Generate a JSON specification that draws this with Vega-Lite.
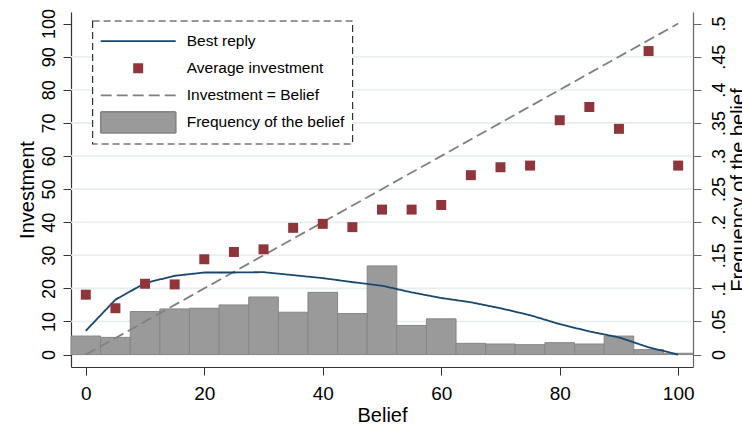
{
  "$schema": "https://vega.github.io/schema/vega-lite/v6.json",
  "width": 622,
  "height": 355,
  "autosize": "none",
  "padding": {"left": 71, "top": 12, "right": 49, "bottom": 62},
  "background": "white",
  "config": {
    "view": {"stroke": null},
    "font": "Liberation Sans",
    "axis": {
      "labelFont": "Liberation Sans",
      "titleFont": "Liberation Sans",
      "labelColor": "#000000",
      "titleColor": "#000000",
      "titleFontWeight": "normal",
      "labelFontSize": 18,
      "titleFontSize": 20,
      "tickSize": 8,
      "tickWidth": 1,
      "domainWidth": 1.2,
      "labelOverlap": false,
      "grid": false
    },
    "legend": {
      "orient": "none",
      "legendX": 21.3,
      "legendY": 8.7,
      "padding": 7.4,
      "rowPadding": 1.1,
      "clipHeight": 26,
      "labelOffset": 10,
      "labelFont": "Liberation Sans",
      "labelFontSize": 15.5,
      "labelColor": "#000000",
      "labelLimit": 400,
      "symbolSize": 5625,
      "symbolStrokeWidth": 1.8,
      "symbolOpacity": 1,
      "fillColor": "#ffffff",
      "strokeColor": "#333333",
      "strokeDash": [7, 4],
      "strokeWidth": 1.2
    }
  },
  "datasets": {
    "gridLevels": [
      {"investment": 10},
      {"investment": 20},
      {"investment": 30},
      {"investment": 40},
      {"investment": 50},
      {"investment": 60},
      {"investment": 70},
      {"investment": 80},
      {"investment": 90}
    ],
    "frequency": [
      {"belief": 0, "lo": -2.5, "hi": 2.5, "freq": 0.028},
      {"belief": 5, "lo": 2.5, "hi": 7.5, "freq": 0.026},
      {"belief": 10, "lo": 7.5, "hi": 12.5, "freq": 0.065},
      {"belief": 15, "lo": 12.5, "hi": 17.5, "freq": 0.069},
      {"belief": 20, "lo": 17.5, "hi": 22.5, "freq": 0.07},
      {"belief": 25, "lo": 22.5, "hi": 27.5, "freq": 0.075},
      {"belief": 30, "lo": 27.5, "hi": 32.5, "freq": 0.087},
      {"belief": 35, "lo": 32.5, "hi": 37.5, "freq": 0.064},
      {"belief": 40, "lo": 37.5, "hi": 42.5, "freq": 0.094},
      {"belief": 45, "lo": 42.5, "hi": 47.5, "freq": 0.062},
      {"belief": 50, "lo": 47.5, "hi": 52.5, "freq": 0.134},
      {"belief": 55, "lo": 52.5, "hi": 57.5, "freq": 0.044},
      {"belief": 60, "lo": 57.5, "hi": 62.5, "freq": 0.054},
      {"belief": 65, "lo": 62.5, "hi": 67.5, "freq": 0.017},
      {"belief": 70, "lo": 67.5, "hi": 72.5, "freq": 0.016},
      {"belief": 75, "lo": 72.5, "hi": 77.5, "freq": 0.015},
      {"belief": 80, "lo": 77.5, "hi": 82.5, "freq": 0.018},
      {"belief": 85, "lo": 82.5, "hi": 87.5, "freq": 0.016},
      {"belief": 90, "lo": 87.5, "hi": 92.5, "freq": 0.028},
      {"belief": 95, "lo": 92.5, "hi": 97.5, "freq": 0.0075},
      {"belief": 100, "lo": 97.5, "hi": 102.5, "freq": 0.002}
    ],
    "average": [
      {"belief": 0, "investment": 18.1},
      {"belief": 5, "investment": 14.0},
      {"belief": 10, "investment": 21.4},
      {"belief": 15, "investment": 21.2},
      {"belief": 20, "investment": 28.8},
      {"belief": 25, "investment": 31.0},
      {"belief": 30, "investment": 31.8},
      {"belief": 35, "investment": 38.3},
      {"belief": 40, "investment": 39.5},
      {"belief": 45, "investment": 38.5},
      {"belief": 50, "investment": 43.8},
      {"belief": 55, "investment": 43.8},
      {"belief": 60, "investment": 45.2},
      {"belief": 65, "investment": 54.2},
      {"belief": 70, "investment": 56.6},
      {"belief": 75, "investment": 57.1},
      {"belief": 80, "investment": 70.8},
      {"belief": 85, "investment": 74.8},
      {"belief": 90, "investment": 68.2},
      {"belief": 95, "investment": 91.7},
      {"belief": 100, "investment": 57.1}
    ],
    "bestReply": [
      {"belief": 0, "investment": 7.2},
      {"belief": 5, "investment": 16.6},
      {"belief": 10, "investment": 21.6},
      {"belief": 15, "investment": 23.8},
      {"belief": 20, "investment": 24.8},
      {"belief": 25, "investment": 24.8},
      {"belief": 30, "investment": 24.9},
      {"belief": 35, "investment": 24.0},
      {"belief": 40, "investment": 23.1},
      {"belief": 45, "investment": 21.9},
      {"belief": 50, "investment": 20.8},
      {"belief": 55, "investment": 18.8},
      {"belief": 60, "investment": 17.1},
      {"belief": 65, "investment": 15.8},
      {"belief": 70, "investment": 14.0},
      {"belief": 75, "investment": 11.9},
      {"belief": 80, "investment": 9.2},
      {"belief": 85, "investment": 7.0},
      {"belief": 90, "investment": 5.2},
      {"belief": 95, "investment": 2.2},
      {"belief": 100, "investment": 0}
    ],
    "identity": [
      {"belief": 0, "investment": 0},
      {"belief": 100, "investment": 100}
    ]
  },
  "layer": [
    {
      "data": {"name": "gridLevels"},
      "mark": {"type": "rule", "color": "#e6eef0", "strokeWidth": 1.6},
      "encoding": {
        "y": {
          "field": "investment",
          "type": "quantitative",
          "scale": {"domain": [-3.75, 103.5], "nice": false, "zero": false},
          "axis": null
        }
      }
    },
    {
      "data": {"name": "frequency"},
      "mark": {"type": "bar", "strokeWidth": 1, "opacity": 1},
      "encoding": {
        "x": {
          "field": "lo",
          "type": "quantitative",
          "scale": {"domain": [-2.5, 102.5], "nice": false, "zero": false},
          "axis": {
            "title": "Belief",
            "values": [0, 20, 40, 60, 80, 100],
            "labelFontSize": 19,
            "labelPadding": 9,
            "titlePadding": 2,
            "tickColor": "#333333",
            "domainColor": "#333333",
            "labelOverlap": false
          }
        },
        "x2": {"field": "hi"},
        "y": {
          "field": "freq",
          "type": "quantitative",
          "scale": {"domain": [-0.01875, 0.5175], "nice": false, "zero": false},
          "axis": {
            "orient": "right",
            "title": "Frequency of the belief",
            "values": [0, 0.05, 0.1, 0.15, 0.2, 0.25, 0.3, 0.35, 0.4, 0.45, 0.5],
            "labelExpr": "datum.value === 0 ? '0' : replace(format(datum.value, '.2~f'), '0.', '.')",
            "labelAngle": 270,
            "labelAlign": "center",
            "labelBaseline": "top",
            "labelPadding": 9.4,
            "labelOverlap": false,
            "titleAngle": 270,
            "titleBaseline": "top",
            "titlePadding": 0,
            "tickColor": "#666666",
            "domainColor": "#666666"
          }
        },
        "y2": {"datum": 0},
        "fill": {
          "datum": "Frequency of the belief",
          "scale": {
            "domain": ["Best reply", "Average investment", "Investment = Belief", "Frequency of the belief"],
            "range": ["transparent", "#90353b", "transparent", "#9a9a9a"]
          },
          "legend": {"title": null}
        },
        "stroke": {
          "datum": "Frequency of the belief",
          "scale": {
            "domain": ["Best reply", "Average investment", "Investment = Belief", "Frequency of the belief"],
            "range": ["#1a476f", "transparent", "#808080", "#868686"]
          },
          "legend": {"title": null}
        }
      }
    },
    {
      "layer": [
        {
          "data": {"name": "identity"},
          "mark": {"type": "line", "strokeWidth": 1.8},
          "encoding": {
            "x": {"field": "belief", "type": "quantitative"},
            "y": {
              "field": "investment",
              "type": "quantitative",
              "scale": {"domain": [-3.75, 103.5], "nice": false, "zero": false},
              "axis": {
                "orient": "left",
                "title": "Investment",
                "values": [0, 10, 20, 30, 40, 50, 60, 70, 80, 90, 100],
                "tickCount": 11,
                "labelAngle": 270,
                "labelAlign": "center",
                "labelBaseline": "bottom",
                "labelPadding": 4.2,
                "labelOverlap": false,
                "titleAngle": 270,
                "titleBaseline": "bottom",
                "titlePadding": 3.3,
                "tickColor": "#333333",
                "domainColor": "#333333"
              }
            },
            "stroke": {"datum": "Investment = Belief"},
            "strokeDash": {
              "datum": "Investment = Belief",
              "scale": {
                "domain": ["Best reply", "Average investment", "Investment = Belief", "Frequency of the belief"],
                "range": [[1, 0], [1, 0], [11, 5], [1, 0]]
              },
              "legend": {"title": null}
            }
          }
        },
        {
          "data": {"name": "bestReply"},
          "mark": {"type": "line", "strokeWidth": 1.8},
          "encoding": {
            "x": {"field": "belief", "type": "quantitative"},
            "y": {"field": "investment", "type": "quantitative"},
            "stroke": {"datum": "Best reply"},
            "strokeDash": {"datum": "Best reply"}
          }
        },
        {
          "data": {"name": "average"},
          "mark": {"type": "point", "filled": true, "size": 5625, "opacity": 1, "strokeWidth": 0},
          "encoding": {
            "x": {"field": "belief", "type": "quantitative"},
            "y": {"field": "investment", "type": "quantitative"},
            "fill": {"datum": "Average investment"},
            "shape": {
              "datum": "Average investment",
              "scale": {
                "domain": ["Best reply", "Average investment", "Investment = Belief", "Frequency of the belief"],
                "range": [
                  "M-1,0H1",
                  "M-0.133,-0.133H0.133V0.133H-0.133Z",
                  "M-1,0H1",
                  "M-1,-0.28H1V0.28H-1Z"
                ]
              },
              "legend": {"title": null}
            }
          }
        }
      ]
    }
  ],
  "resolve": {"scale": {"y": "independent"}, "axis": {"y": "independent"}}
}
